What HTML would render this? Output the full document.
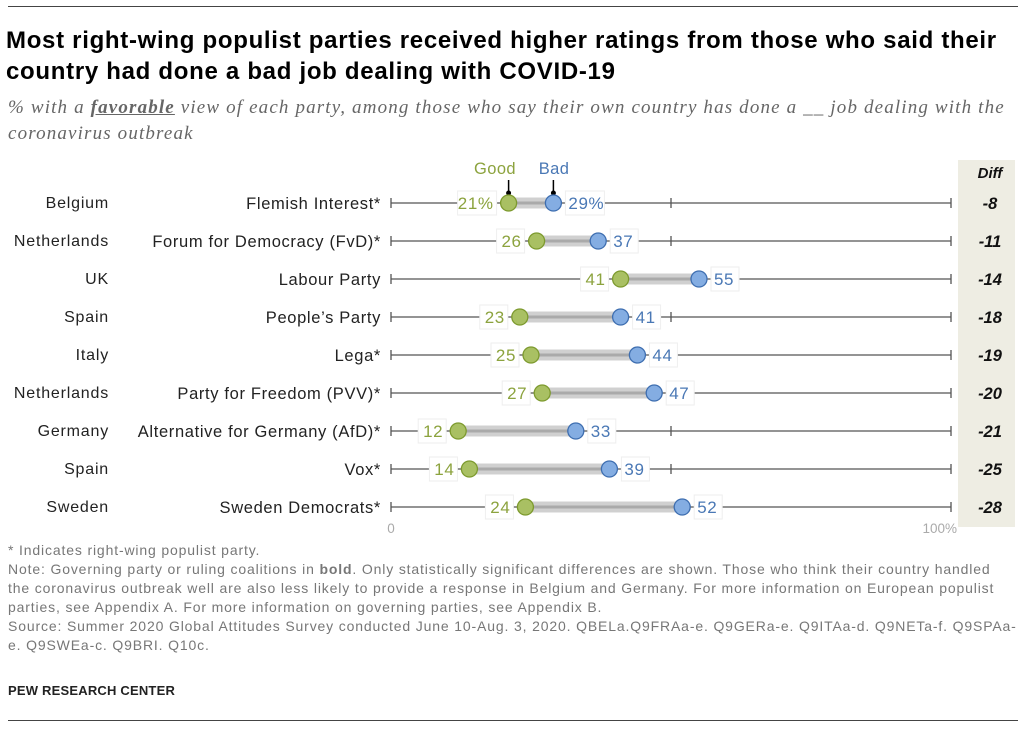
<!DOCTYPE html>
<html><head><meta charset="utf-8"><style>
body{margin:0;width:1023px;height:729px;background:#fff;font-family:"Liberation Sans",sans-serif;overflow:hidden;position:relative}
.t{position:absolute;left:6px;top:25px;font-size:24px;font-weight:bold;color:#000;line-height:31px;letter-spacing:0.7px;white-space:nowrap}
.s{position:absolute;left:8px;top:95px;font-family:"Liberation Serif",serif;font-style:italic;font-size:19px;color:#666;line-height:26px;letter-spacing:1.15px;white-space:nowrap}
.f{position:absolute;left:8px;top:541px;font-size:14px;color:#777;line-height:19px;width:1015px;letter-spacing:0.85px;white-space:nowrap}
.p{position:absolute;left:8px;top:683px;font-size:13px;font-weight:bold;color:#222;letter-spacing:0.2px}
.hr{position:absolute;left:8px;width:1010px;height:1px;background:#444}
</style></head><body>
<div class="hr" style="top:6px"></div>
<div class="t">Most right-wing populist parties received higher ratings from those who said their<br>country had done a bad job dealing with COVID-19</div>
<div class="s">% with a <b style="text-decoration:underline">favorable</b> view of each party, among those who say their own country has done a __ job dealing with the<br>coronavirus outbreak</div>
<svg width="1023" height="729" style="position:absolute;left:0;top:0" id="chart"></svg>
<div class="f">* Indicates right-wing populist party.<br>Note: Governing party or ruling coalitions in <b>bold</b>. Only statistically significant differences are shown. Those who think their country handled<br>the coronavirus outbreak well are also less likely to provide a response in Belgium and Germany. For more information on European populist<br>parties, see Appendix A. For more information on governing parties, see Appendix B.<br>Source: Summer 2020 Global Attitudes Survey conducted June 10-Aug. 3, 2020. QBELa.Q9FRAa-e. Q9GERa-e. Q9ITAa-d. Q9NETa-f. Q9SPAa-<br>e. Q9SWEa-c. Q9BRI. Q10c.</div>
<div class="p">PEW RESEARCH CENTER</div>
<div class="hr" style="top:720px"></div>
<script>
const countries=["Belgium","Netherlands","UK","Spain","Italy","Netherlands","Germany","Spain","Sweden"];
const parties=["Flemish Interest*","Forum for Democracy (FvD)*","Labour Party","People’s Party","Lega*","Party for Freedom (PVV)*","Alternative for Germany (AfD)*","Vox*","Sweden Democrats*"];
const good=[21,26,41,23,25,27,12,14,24];
const bad=[29,37,55,41,44,47,33,39,52];
const diffs=["-8","-11","-14","-18","-19","-20","-21","-25","-28"];
const svg=document.getElementById('chart');const NS="http://www.w3.org/2000/svg";
const x=v=>391+v*5.6, y=i=>203+i*38;
function mk(tag,a,parent){const e=document.createElementNS(NS,tag);for(const k in a)e.setAttribute(k,a[k]);(parent||svg).appendChild(e);return e;}
function tx(s,a){const e=mk('text',a);e.textContent=s;return e;}
let band=mk('rect',{x:958,y:160,width:57,height:367,fill:'#eeede3'});


let dh=tx('Diff',{x:990,y:178,'text-anchor':'middle','font-size':15,'font-weight':'bold','font-style':'italic',fill:'#111'});


const gl=tx('Good',{x:495,y:174,'text-anchor':'middle','font-size':16.5,'letter-spacing':0.4,fill:'#8ca33e'});


const bl=tx('Bad',{x:554,y:174,'text-anchor':'middle','font-size':16.5,'letter-spacing':0.4,fill:'#4a78b5'});


mk('line',{x1:x(good[0]),x2:x(good[0]),y1:180,y2:195,stroke:'#000','stroke-width':1.5});
mk('circle',{cx:x(good[0]),cy:193,r:2.5,fill:'#000'});
mk('line',{x1:x(bad[0]),x2:x(bad[0]),y1:180,y2:195,stroke:'#000','stroke-width':1.5});
mk('circle',{cx:x(bad[0]),cy:193,r:2.5,fill:'#000'});
for(let i=0;i<good.length;i++){
  const Y=y(i);
  const g=mk('g',{});
  
  
  const c=tx(countries[i],{x:109,y:Y+5,'text-anchor':'end','font-size':16,'letter-spacing':0.8,fill:'#222'});g.appendChild(c);
  
  
  const p=tx(parties[i],{x:381,y:Y+6,'text-anchor':'end','font-size':16.5,'letter-spacing':0.65,fill:'#222'});g.appendChild(p);
  
  
  mk('line',{x1:x(0),x2:x(100),y1:Y,y2:Y,stroke:'#555','stroke-width':1.3},g);
  [0,50,100].forEach(v=>mk('line',{x1:x(v),x2:x(v),y1:Y-5,y2:Y+5,stroke:'#555','stroke-width':1.3},g));
  mk('line',{x1:x(good[i]),x2:x(bad[i]),y1:Y,y2:Y,stroke:'#d0d0d0','stroke-width':11},g);
  mk('line',{x1:x(good[i]),x2:x(bad[i]),y1:Y,y2:Y,stroke:'#aaa','stroke-width':3},g);
  const sfx=i==0?'%':'';
  const gt=(good[i]+sfx), bt=(bad[i]+sfx);
  const gw=gt.length*11+6, bw=bt.length*11+6;
  mk('rect',{x:x(good[i])-12-gw,y:Y-12,width:gw,height:24,fill:'#fff',stroke:'#eee'},g);
  const gtx=tx(gt,{x:x(good[i])-15,y:Y+6,'text-anchor':'end','font-size':17,'letter-spacing':0.6,fill:'#8ca33e'});g.appendChild(gtx);
  
  
  mk('rect',{x:x(bad[i])+12,y:Y-12,width:bw,height:24,fill:'#fff',stroke:'#eee'},g);
  const btx=tx(bt,{x:x(bad[i])+15,y:Y+6,'font-size':17,'letter-spacing':0.6,fill:'#4a78b5'});g.appendChild(btx);
  
  
  const gc=mk('circle',{cx:x(good[i]),cy:Y,r:8,fill:'#a9c063',stroke:'#7d9a2e','stroke-width':1.3},g);
  
  
  const bc=mk('circle',{cx:x(bad[i]),cy:Y,r:8,fill:'#84ade2',stroke:'#3e6eb0','stroke-width':1.3},g);
  
  
  const d=tx(diffs[i],{x:990,y:Y+6,'text-anchor':'middle','font-size':16.5,'font-weight':'bold','font-style':'italic',fill:'#111'});g.appendChild(d);
  
  
}
const a0=tx('0',{x:x(0),y:533,'text-anchor':'middle','font-size':13.5,fill:'#aaa'});


const a1=tx('100%',{x:x(100)+6,y:533,'text-anchor':'end','font-size':13.5,fill:'#aaa'});


</script>
</body></html>
